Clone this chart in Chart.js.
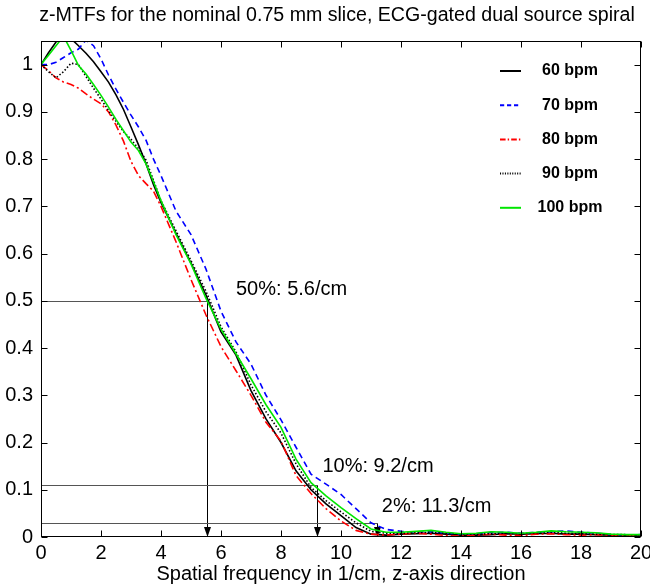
<!DOCTYPE html>
<html><head><meta charset="utf-8">
<script src="https://cdn.jsdelivr.net/npm/chart.js@4.4.1/dist/chart.umd.min.js"></script>
<style>html,body{margin:0;padding:0;background:#fff}</style>
</head><body>
<canvas id="c" width="650" height="584"></canvas>
<script>
// ---- data ----
const freq = [0,0.25,0.5,0.75,1,1.25,1.5,1.75,2,2.25,2.5,2.75,3,3.25,3.5,3.75,4,
  4.5,5,5.5,6,6.5,7,7.5,8,8.5,9,9.5,10,10.5,11,11.5,
  12,12.5,13,13.5,14,14.5,15,15.5,16,16.5,17,17.5,18,18.5,19,19.5,20];
const mtf60 = [1.0,1.025,1.048,1.062,1.055,1.04,1.024,1.006,0.985,0.963,0.936,0.905,0.868,0.83,0.79,0.746,0.708,
  0.643,0.58,0.512,0.434,0.385,0.31,0.25,0.2,0.14,0.1,0.07,0.045,0.02,0.006,0.004,
  0.006,0.007,0.008,0.006,0.004,0.004,0.005,0.007,0.006,0.007,0.008,0.006,0.006,0.005,0.004,0.004,0.003];
const mtf70 = [1.0,1.0,1.005,1.015,1.025,1.033,1.052,1.04,1.012,0.978,0.948,0.92,0.893,0.868,0.84,0.8,0.765,
  0.69,0.64,0.567,0.478,0.413,0.366,0.3,0.248,0.19,0.133,0.112,0.09,0.06,0.03,0.016,
  0.012,0.01,0.011,0.008,0.006,0.007,0.009,0.01,0.008,0.01,0.011,0.013,0.01,0.008,0.005,0.004,0.005];
const mtf80 = [1.0,0.987,0.972,0.963,0.958,0.95,0.938,0.927,0.917,0.9,0.872,0.838,0.795,0.765,0.748,0.732,0.7,
  0.625,0.545,0.47,0.403,0.352,0.3,0.243,0.203,0.13,0.092,0.06,0.034,0.014,0.006,0.004,
  0.006,0.008,0.006,0.003,0.002,0.004,0.006,0.004,0.003,0.006,0.007,0.005,0.004,0.005,0.003,0.003,0.002];
const mtf90 = [1.0,0.985,0.972,0.985,1.003,1.0,0.975,0.95,0.927,0.903,0.88,0.858,0.842,0.822,0.798,0.755,0.712,
  0.648,0.585,0.52,0.445,0.392,0.322,0.265,0.22,0.155,0.105,0.077,0.053,0.03,0.012,0.008,
  0.008,0.009,0.01,0.008,0.006,0.006,0.007,0.008,0.007,0.009,0.01,0.008,0.007,0.006,0.005,0.005,0.004];
const mtf100 = [1.0,1.02,1.04,1.06,1.03,0.998,0.98,0.958,0.935,0.91,0.884,0.86,0.836,0.818,0.79,0.752,0.712,
  0.64,0.578,0.505,0.44,0.388,0.335,0.28,0.232,0.165,0.115,0.087,0.062,0.039,0.017,0.01,
  0.01,0.012,0.014,0.01,0.007,0.008,0.011,0.01,0.008,0.01,0.013,0.011,0.01,0.009,0.006,0.005,0.005];
const seriesLabels = ['60 bpm','70 bpm','80 bpm','90 bpm','100 bpm'];
const xTicks = [0,2,4,6,8,10,12,14,16,18,20];
const yTicks = [0,0.1,0.2,0.3,0.4,0.5,0.6,0.7,0.8,0.9,1];
const markerFreq = [5.55, 9.2, 11.2];
const markerLevel = [0.5, 0.11, 0.03];
const markerText = ['50%: 5.6/cm','10%: 9.2/cm','2%: 11.3/cm'];
const titleText = 'z-MTFs for the nominal 0.75 mm slice, ECG-gated dual source spiral';
const xTitle = 'Spatial frequency in 1/cm, z-axis direction';

// ---- styling ----
const FONT = "'Liberation Sans', Arial, sans-serif";
const allSeries = [mtf60, mtf70, mtf80, mtf90, mtf100];
const styles = [
  {color:'#000000', dash:[]},
  {color:'#0000ff', dash:[6,4]},
  {color:'#ff0000', dash:[8,3,2,3]},
  {color:'#000000', dash:[1.5,2]},
  {color:'#00e600', dash:[]}
];
const labelPos = [[6.5,0.524],[9.38,0.15],[11.36,0.065]];

const datasets = allSeries.map((s,k)=>({
  label: seriesLabels[k],
  data: freq.map((f,i)=>({x:f, y:s[i]})),
  borderColor: styles[k].color,
  borderDash: styles[k].dash,
  borderWidth: 1.6,
  pointRadius: 0,
  tension: 0,
  fill: false,
  clip: 0,
  order: 4-k
}));

const decor = {
  id:'decor',
  beforeDatasetsDraw(chart){
    const {ctx, scales:{x,y}} = chart;
    ctx.save();
    ctx.lineWidth = 1;
    const x0 = x.getPixelForValue(0);
    const y0 = y.getPixelForValue(0);
    markerFreq.forEach((f,i)=>{
      const px = Math.round(x.getPixelForValue(f))+0.5;
      const py = Math.round(y.getPixelForValue(markerLevel[i]))+0.5;
      ctx.strokeStyle = '#555';
      ctx.beginPath(); ctx.moveTo(x0,py); ctx.lineTo(px,py); ctx.stroke();
      ctx.strokeStyle = '#000';
      ctx.beginPath(); ctx.moveTo(px,py); ctx.lineTo(px,y0-9); ctx.stroke();
      ctx.fillStyle = '#000';
      ctx.beginPath(); ctx.moveTo(px-3.5,y0-10); ctx.lineTo(px+3.5,y0-10); ctx.lineTo(px,y0); ctx.closePath(); ctx.fill();
    });
    ctx.restore();
  },
  afterDatasetsDraw(chart){
    const {ctx, chartArea:a, scales:{x,y}} = chart;
    ctx.save();
    // frame
    ctx.strokeStyle = '#000'; ctx.lineWidth = 1; ctx.setLineDash([]);
    const L = Math.round(a.left)+0.5, R = Math.round(a.right)-0.5, T = Math.round(a.top)+0.5, B = Math.round(a.bottom)-0.5;
    ctx.strokeRect(L, T, R-L, B-T);
    // inward ticks
    const tl = 6;
    ctx.beginPath();
    xTicks.forEach(v=>{
      const px = Math.round(x.getPixelForValue(v))+0.5;
      ctx.moveTo(px,B); ctx.lineTo(px,B-tl);
      ctx.moveTo(px,T); ctx.lineTo(px,T+tl);
    });
    yTicks.forEach(v=>{
      const py = Math.round(y.getPixelForValue(v))+0.5;
      ctx.moveTo(L,py); ctx.lineTo(L+tl,py);
      ctx.moveTo(R,py); ctx.lineTo(R-tl,py);
    });
    ctx.stroke();
    // annotation texts
    ctx.fillStyle = '#000';
    ctx.font = `20px ${FONT}`;
    ctx.textAlign = 'left'; ctx.textBaseline = 'middle';
    markerText.forEach((t,i)=>{
      ctx.fillText(t, x.getPixelForValue(labelPos[i][0]), y.getPixelForValue(labelPos[i][1]));
    });
    // legend
    ctx.font = `bold 16px ${FONT}`;
    ctx.textAlign = 'center';
    seriesLabels.forEach((lab,k)=>{
      const ly = 71 + k*34.2;
      ctx.strokeStyle = styles[k].color;
      ctx.setLineDash(styles[k].dash.map(d=>d*0.7));
      ctx.lineWidth = 2;
      ctx.beginPath(); ctx.moveTo(500, ly); ctx.lineTo(521, ly); ctx.stroke();
      ctx.setLineDash([]);
      ctx.fillStyle = '#000';
      ctx.fillText(lab, 570, ly);
    });
    // title
    ctx.font = `19.6px ${FONT}`;
    ctx.textAlign = 'center';
    ctx.fillText(titleText, 337, 16);
    ctx.restore();
  }
};

new Chart(document.getElementById('c'), {
  type: 'line',
  data: { datasets },
  options: {
    responsive: false,
    animation: false,
    devicePixelRatio: 1,
    layout: { padding: { top: 41, right: 9, left: 0, bottom: 0 } },
    plugins: { legend: { display: false }, tooltip: { enabled: false }, title: { display: false } },
    scales: {
      x: {
        type: 'linear', min: 0, max: 20,
        afterBuildTicks: s => { s.ticks = xTicks.map(v=>({value:v})); },
        afterFit: s => { s.height = 47; s.paddingLeft = 0; s.paddingRight = 0; },
        grid: { display: false, drawTicks: false },
        border: { display: false },
        ticks: { font: { size: 20, family: FONT }, color: '#000', padding: 4, maxRotation: 0, autoSkip: false,
                 callback: v => String(v) },
        title: { display: true, text: xTitle, color: '#000', font: { size: 20, family: FONT, lineHeight: 1.0 }, padding: 0 }
      },
      y: {
        type: 'linear', min: 0, max: 1.05,
        afterBuildTicks: s => { s.ticks = yTicks.map(v=>({value:v})); },
        afterFit: s => { s.width = 41; },
        grid: { display: false, drawTicks: false },
        border: { display: false },
        ticks: { font: { size: 20, family: FONT }, color: '#000', padding: 8, autoSkip: false,
                 callback: v => (v===0 ? '0' : v===1 ? '1' : v.toFixed(1)) }
      }
    }
  },
  plugins: [decor]
});
</script>
</body></html>
